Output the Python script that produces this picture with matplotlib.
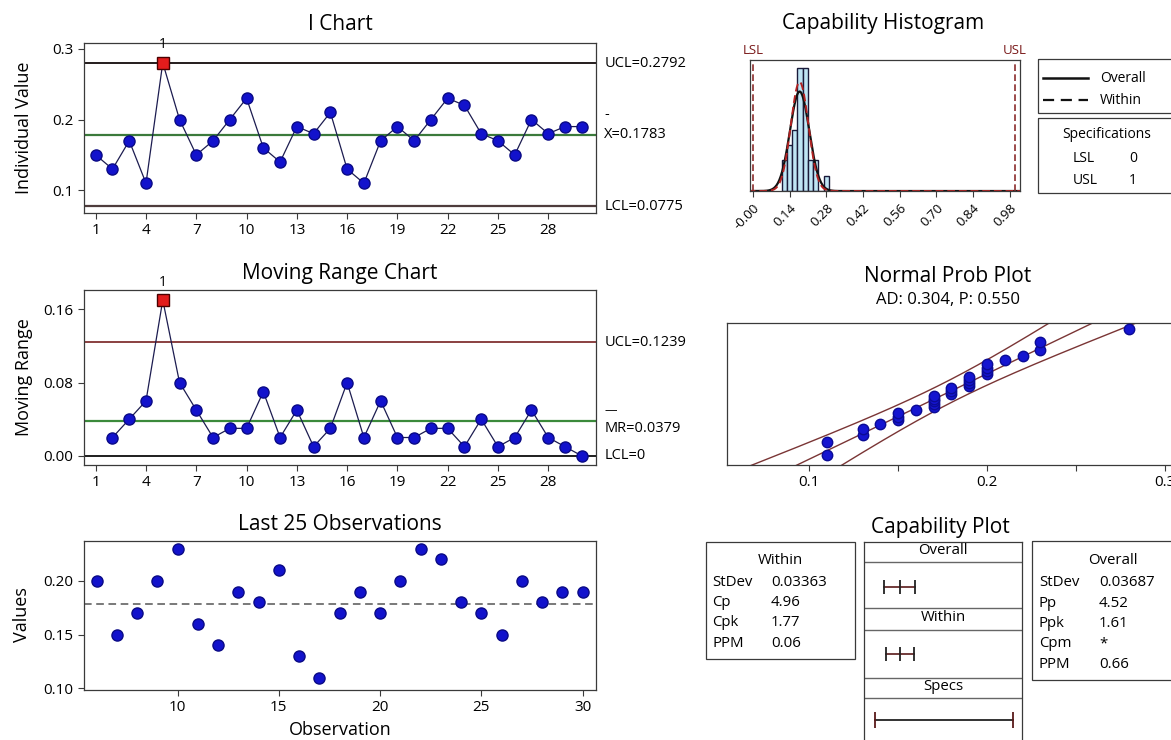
import numpy as np
import matplotlib
matplotlib.use("Agg")
import matplotlib.pyplot as plt
from matplotlib.patches import Rectangle
from statistics import NormalDist

W, H = 1171, 740
plt.rcParams['font.family'] = ['Open Sans', 'DejaVu Sans']

individual = [0.15, 0.13, 0.17, 0.11, 0.28, 0.20, 0.15, 0.17, 0.20, 0.23,
              0.16, 0.14, 0.19, 0.18, 0.21, 0.13, 0.11, 0.17, 0.19, 0.17,
              0.20, 0.23, 0.22, 0.18, 0.17, 0.15, 0.20, 0.18, 0.19, 0.19]
moving_range = [0.02, 0.04, 0.06, 0.17, 0.08, 0.05, 0.02, 0.03, 0.03, 0.07,
                0.02, 0.05, 0.01, 0.03, 0.08, 0.02, 0.06, 0.02, 0.02, 0.03,
                0.03, 0.01, 0.04, 0.01, 0.02, 0.05, 0.02, 0.01, 0.00]
flagged = [5]

i_ucl, i_cl, i_lcl = 0.2792, 0.1783, 0.0775
mr_ucl, mr_cl, mr_lcl = 0.1239, 0.0379, 0.0

lsl, usl = 0, 1
sd_within, sd_overall = 0.03363, 0.03687

hist_centers = [0.12, 0.14, 0.16, 0.18, 0.20, 0.22, 0.24, 0.26, 0.28]
hist_counts = [2, 3, 4, 8, 8, 2, 2, 0, 1]
hist_ticks = [0.0, 0.14, 0.28, 0.42, 0.56, 0.70, 0.84, 0.98]
hist_tick_labels = ['-0.00', '0.14', '0.28', '0.42', '0.56', '0.70', '0.84', '0.98']

within_rows = [('StDev', '0.03363'), ('Cp', '4.96'), ('Cpk', '1.77'), ('PPM', '0.06')]
overall_rows = [('StDev', '0.03687'), ('Pp', '4.52'), ('Ppk', '1.61'),
                ('Cpm', '*'), ('PPM', '0.66')]

obs = np.arange(1, len(individual) + 1)

DOT = dict(marker='o', ms=8, mfc='#1212cc', mec='#0a0a85', mew=1.0)
LINE = '#1c1c50'
LIM_FS = 10.5
TAB_FS = 10.8


def px_axes(fig, left, top, right, bottom):
    return fig.add_axes([left / W, 1 - bottom / H, (right - left) / W, (bottom - top) / H])


def style(ax):
    for s in ax.spines.values():
        s.set_color('#3a3a3a')
        s.set_linewidth(0.9)
    ax.tick_params(direction='out', length=4, width=0.8, labelsize=11, color='#3a3a3a')


def ptext(x, y, s, **kw):
    fig.text(x / W, 1 - y / H, s, **kw)


fig = plt.figure(figsize=(W / 100, H / 100), dpi=100)
fig.patch.set_facecolor('white')

# ---- I chart
ax = px_axes(fig, 84, 43, 596, 213)
style(ax)
ax.axhline(i_ucl, color='#241c1c', lw=1.4)
ax.axhline(i_cl, color='#3b7a3b', lw=1.6)
ax.axhline(i_lcl, color='#4e3c3c', lw=1.6)
ax.plot(obs, individual, color=LINE, lw=0.9, zorder=3, **DOT)
for f in flagged:
    ax.plot(f, individual[f - 1], marker='s', ms=8.5, mfc='#e31c1c', mec='#4a0000', zorder=4)
    ax.annotate('1', (f, individual[f - 1]), xytext=(0, 8), textcoords='offset points',
                ha='center', va='bottom', fontsize=10)
ax.set_xlim(0.3, 30.85)
ax.set_ylim(0.068, 0.308)
ax.set_xticks(np.arange(1, 30, 3))
ax.set_yticks([0.1, 0.2, 0.3])
ax.set_yticklabels(['0.1', '0.2', '0.3'])
tr = ax.get_yaxis_transform()
ax.text(1.016, i_ucl, 'UCL=0.2792', transform=tr, va='center', fontsize=LIM_FS)
ax.text(1.016, i_cl, 'X=0.1783', transform=tr, va='center', fontsize=LIM_FS)
ax.annotate('-', (1.016, i_cl), xycoords=tr, xytext=(0, 9), textcoords='offset points',
            va='bottom', fontsize=LIM_FS)
ax.text(1.016, i_lcl, 'LCL=0.0775', transform=tr, va='center', fontsize=LIM_FS)

# ---- moving range chart
ax = px_axes(fig, 84, 290, 596, 465)
style(ax)
ax.axhline(mr_ucl, color='#8a4040', lw=1.4)
ax.axhline(mr_cl, color='#3b8a3b', lw=1.6)
ax.axhline(mr_lcl, color='#1e1e1e', lw=1.4)
ax.plot(obs[1:], moving_range, color=LINE, lw=0.9, zorder=3, **DOT)
for f in flagged:
    ax.plot(f, moving_range[f - 2], marker='s', ms=8.5, mfc='#e31c1c', mec='#4a0000', zorder=4)
    ax.annotate('1', (f, moving_range[f - 2]), xytext=(0, 7), textcoords='offset points',
                ha='center', va='bottom', fontsize=10)
ax.set_xlim(0.3, 30.85)
ax.set_ylim(-0.010, 0.181)
ax.set_xticks(np.arange(1, 30, 3))
ax.set_yticks([0.0, 0.08, 0.16])
ax.set_yticklabels(['0.00', '0.08', '0.16'])
tr = ax.get_yaxis_transform()
ax.text(1.016, mr_ucl, 'UCL=0.1239', transform=tr, va='center', fontsize=LIM_FS)
ax.text(1.016, mr_cl, 'MR=0.0379', transform=tr, va='top', fontsize=LIM_FS)
ax.annotate('—', (1.016, mr_cl), xycoords=tr, xytext=(0, 3), textcoords='offset points',
            va='bottom', fontsize=9)
ax.text(1.016, mr_lcl, 'LCL=0', transform=tr, va='center', fontsize=LIM_FS)

# ---- last 25 observations
ax = px_axes(fig, 84, 541, 596, 690)
style(ax)
last = obs[-25:]
ax.axhline(i_cl, color='#555555', lw=1.1, ls=(0, (5, 3)))
ax.plot(last, individual[-25:], ls='none', zorder=3, **DOT)
ax.set_xlim(5.38, 30.66)
ax.set_ylim(0.0985, 0.237)
ax.set_xticks([10, 15, 20, 25, 30])
ax.set_yticks([0.10, 0.15, 0.20])
ax.set_yticklabels(['0.10', '0.15', '0.20'])

# ---- capability histogram
ax = px_axes(fig, 750, 60, 1020, 191)
style(ax)
ax.bar(hist_centers, hist_counts, width=0.02, color='#bfe5f4', edgecolor='#1a1a3a', lw=1.0)
xs = np.linspace(-0.02, 1.03, 600)
scale = len(individual) * 0.02 / np.sqrt(2 * np.pi)
ax.plot(xs, scale / sd_overall * np.exp(-0.5 * ((xs - i_cl) / sd_overall) ** 2),
        color='#111111', lw=1.6)
ax.plot(xs, scale / sd_within * np.exp(-0.5 * ((xs - i_cl) / sd_within) ** 2),
        color='#b22222', lw=1.4, ls=(0, (4, 2)))
ax.axvline(lsl, color='#8b2c2c', lw=1.2, ls=(0, (4, 2)))
ax.axvline(usl, color='#8b2c2c', lw=1.2, ls=(0, (4, 2)))
ax.text(lsl, 1.02, 'LSL', transform=ax.get_xaxis_transform(), ha='center', va='bottom',
        color='#7a1a1a', fontsize=9.5)
ax.text(usl, 1.02, 'USL', transform=ax.get_xaxis_transform(), ha='center', va='bottom',
        color='#7a1a1a', fontsize=9.5)
ax.set_xlim(-0.011, 1.019)
ax.set_ylim(0, 8.55)
ax.set_yticks([])
ax.set_xticks(hist_ticks)
ax.set_xticklabels(hist_tick_labels, rotation=45, ha='right', va='top',
                   rotation_mode='anchor', fontsize=9.5)

# ---- normal probability plot
ax = px_axes(fig, 727, 323, 1171, 465)
style(ax)
ax.spines['right'].set_visible(False)
n = len(individual)
srt = np.sort(individual)
z = [NormalDist().inv_cdf((i - 0.3) / (n + 0.4)) for i in range(1, n + 1)]
zz = np.linspace(-3, 3, 200)
fit = i_cl + zz * sd_overall
half = 1.96 * sd_overall * np.sqrt(1 / n + zz ** 2 / (2 * n))
for curve in (fit, fit - half, fit + half):
    ax.plot(curve, zz, color='#7a3535', lw=1.0)
ax.plot(srt, z, ls='none', marker='o', ms=7.5, mfc='#1515d0', mec='#0b0b95', zorder=3)
ax.set_xlim(0.0537, 0.3035)
ax.set_ylim(-2.31, 2.2)
ax.set_yticks([])
ax.set_xticks([0.1, 0.15, 0.2, 0.25, 0.3])
ax.set_xticklabels(['0.1', '', '0.2', '', '0.3'])

# ---- capability plot (middle panel)
cp = px_axes(fig, 864, 542, 1022, 740)
for s in cp.spines.values():
    s.set_color('#3a3a3a')
    s.set_linewidth(0.9)
cp.spines['bottom'].set_visible(False)
cp.set_xlim(lsl - 11 / 138, usl + 9 / 138)
cp.set_ylim(740, 542)
cp.set_xticks([])
cp.set_yticks([])
for yline in (562, 608, 630, 678, 698):
    cp.axhline(yline, color='#666666', lw=1.0)
for label, yl in (('Overall', 551), ('Within', 618), ('Specs', 687)):
    cp.text(0.5, yl, label, transform=cp.get_yaxis_transform(), ha='center', va='center',
            fontsize=TAB_FS)
cap_rows = [(sd_overall, 587), (sd_within, 654)]
for sd, yrow in cap_rows:
    xs3 = [i_cl - 3 * sd, i_cl, i_cl + 3 * sd]
    cp.plot(xs3, [yrow] * 3, color='#5a1a1a', lw=1.2, marker='|', ms=10, mew=1.3, mec='#222222')
cp.plot([lsl, usl], [720, 720], color='#222222', lw=1.3)
cp.plot([lsl, usl], [720, 720], ls='none', marker='|', ms=12, mew=1.3, mec='#5a1a1a')

# ---- overlay: titles, tables, legend boxes
ov = fig.add_axes([0, 0, 1, 1], zorder=-1)
ov.set_xlim(0, W)
ov.set_ylim(H, 0)
ov.axis('off')

TITLE = dict(ha='center', va='center', fontsize=15)
ptext(340, 24, 'I Chart', **TITLE)
ptext(340, 274, 'Moving Range Chart', **TITLE)
ptext(340, 524, 'Last 25 Observations', **TITLE)
ptext(883, 24, 'Capability Histogram', **TITLE)
ptext(948, 276, 'Normal Prob Plot', **TITLE)
ptext(948, 300, 'AD: 0.304, P: 0.550', ha='center', va='center', fontsize=12)
ptext(940, 527, 'Capability Plot', **TITLE)
ptext(340, 730, 'Observation', ha='center', va='center', fontsize=13)
YL = dict(ha='center', va='center', rotation=90, fontsize=13)
ptext(24, 128, 'Individual Value', **YL)
ptext(24, 377, 'Moving Range', **YL)
ptext(22, 615, 'Values', **YL)

box = dict(fill=False, ec='#3a3a3a', lw=0.9)
# legend
ov.add_patch(Rectangle((1038, 59), 150, 54, **box))
ov.plot([1043, 1088], [78, 78], color='#111111', lw=1.8)
ov.plot([1043, 1088], [100, 100], color='#111111', lw=1.6, ls=(0, (5, 3)))
ov.text(1100, 78, 'Overall', va='center', fontsize=10)
ov.text(1100, 100, 'Within', va='center', fontsize=10)
ov.add_patch(Rectangle((1038, 118), 150, 75, **box))
ov.text(1107, 135, 'Specifications', ha='center', va='center', fontsize=10)
ov.text(1073, 158, 'LSL', va='center', fontsize=10)
ov.text(1129, 158, str(lsl), va='center', fontsize=10)
ov.text(1073, 180, 'USL', va='center', fontsize=10)
ov.text(1129, 180, str(usl), va='center', fontsize=10)

# within table
ov.add_patch(Rectangle((706, 542), 149, 117, **box))
ov.text(780, 561, 'Within', ha='center', va='center', fontsize=TAB_FS)
for k, (lab, val) in enumerate(within_rows):
    ov.text(712, 582 + 20.5 * k, lab, va='center', fontsize=TAB_FS)
    ov.text(771, 582 + 20.5 * k, val, va='center', fontsize=TAB_FS)

# overall table
ov.add_patch(Rectangle((1032, 541), 160, 139, **box))
ov.text(1113, 561, 'Overall', ha='center', va='center', fontsize=TAB_FS)
for k, (lab, val) in enumerate(overall_rows):
    ov.text(1039, 583 + 20.3 * k, lab, va='center', fontsize=TAB_FS)
    ov.text(1099, 583 + 20.3 * k, val, va='center', fontsize=TAB_FS)

fig.savefig('out.png', dpi=100, facecolor='white')
